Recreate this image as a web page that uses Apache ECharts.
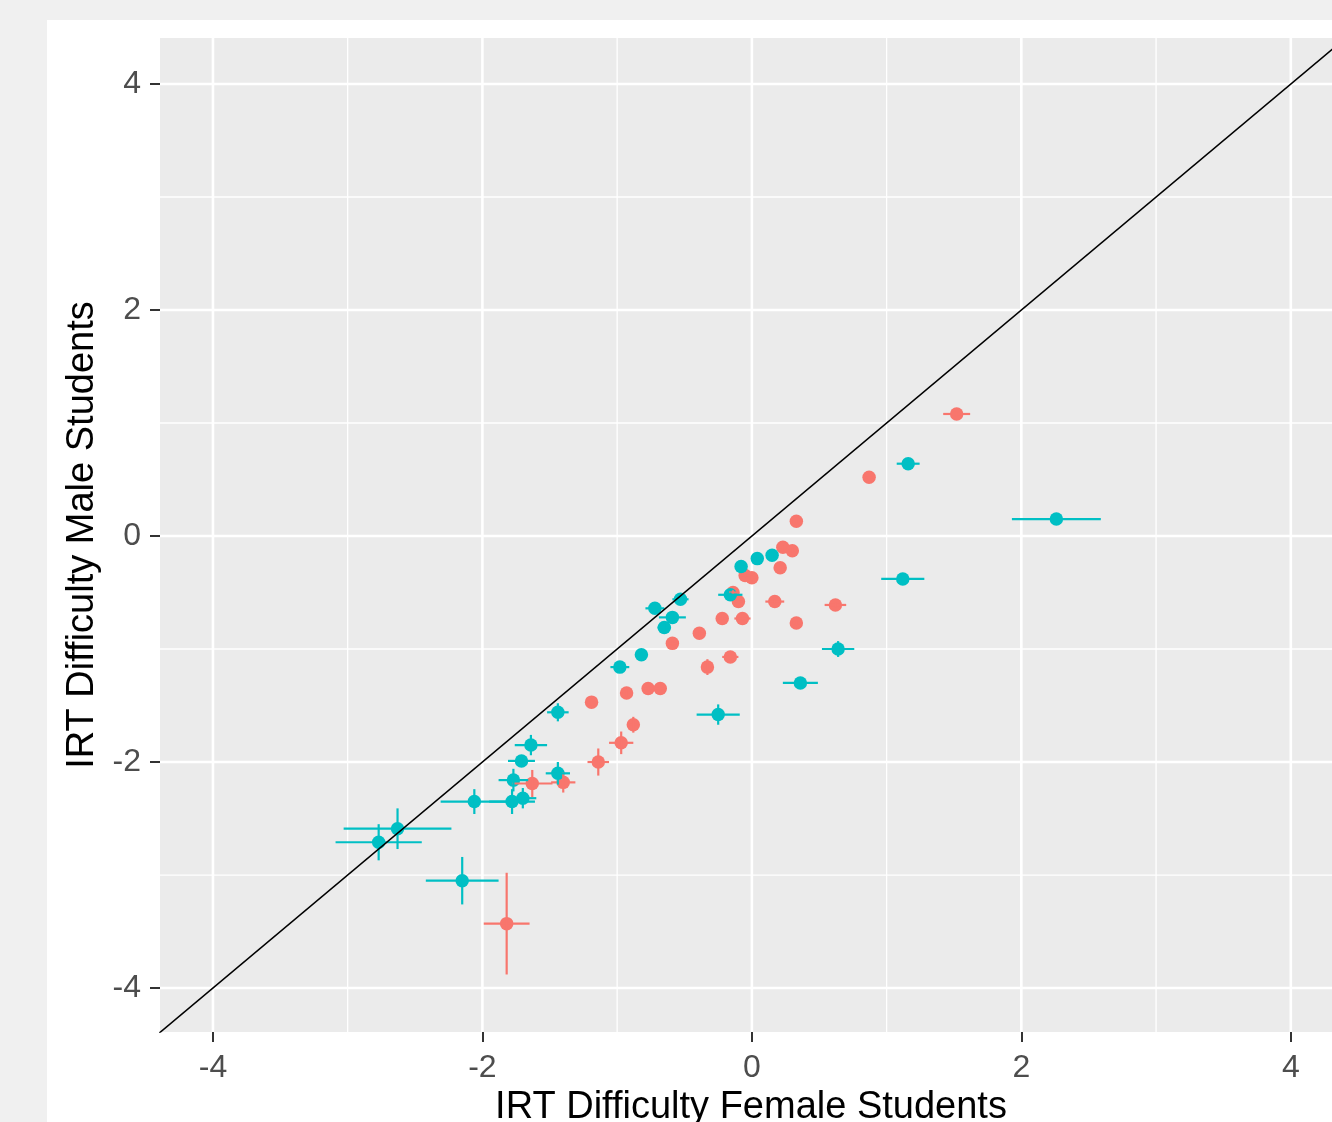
<!DOCTYPE html>
<html>
<head>
<meta charset="utf-8">
<script src="https://cdn.jsdelivr.net/npm/echarts@6/dist/echarts.min.js"></script>
<style>
html, body { margin: 0; padding: 0; background: #f0f0f0; }
#paper { position: absolute; left: 47px; top: 20px; width: 1285px; height: 1102px; background: #fff; }
#chart { position: absolute; left: 0; top: 0; width: 1332px; height: 1122px; }
</style>
</head>
<body>
<div id="paper"></div>
<div id="chart"></div>
<script>
// tick values
var xMajor = [-4, -2, 0, 2, 4];
var xMinor = [-3, -1, 1, 3];
var yMajor = [-4, -2, 0, 2, 4];
var yMinor = [-3, -1, 1, 3];

// reference line y = x
var diag = [-5, 5];

// red group (female x, male y, half widths of the bars)
var redX    = [1.52, 0.87, 0.33, 0.23, 0.30, 0.21, -0.05, 0.00, -0.14, -0.10, 0.17, 0.62, -0.22, -0.07, 0.33, -0.39, -0.16, -0.33, -0.59, -0.77, -0.68, -0.93, -1.19, -0.88, -0.97, -1.14, -1.40, -1.63, -1.82];
var redY    = [1.08, 0.52, 0.13, -0.10, -0.13, -0.28, -0.35, -0.37, -0.50, -0.58, -0.58, -0.61, -0.73, -0.73, -0.77, -0.86, -1.07, -1.16, -0.95, -1.35, -1.35, -1.39, -1.47, -1.67, -1.83, -2.00, -2.18, -2.19, -3.43];
var redXErr = [0.10, 0.03, 0.03, 0.03, 0.03, 0.03, 0.03, 0.03, 0.03, 0.03, 0.07, 0.08, 0.03, 0.06, 0.03, 0.03, 0.06, 0.03, 0.03, 0.04, 0.04, 0.03, 0.03, 0.03, 0.09, 0.08, 0.09, 0.15, 0.17];
var redYErr = [0.02, 0.02, 0.02, 0.02, 0.02, 0.02, 0.02, 0.02, 0.02, 0.02, 0.02, 0.02, 0.02, 0.02, 0.02, 0.02, 0.02, 0.07, 0.02, 0.02, 0.02, 0.03, 0.03, 0.07, 0.10, 0.12, 0.09, 0.12, 0.45];

// teal group
var tealX    = [2.26, 1.16, 1.12, 0.64, 0.36, -0.25, 0.15, 0.04, -0.08, -0.16, -0.72, -0.53, -0.59, -0.65, -0.82, -0.98, -1.44, -1.64, -1.71, -1.77, -1.44, -2.06, -1.78, -1.70, -2.63, -2.77, -2.15];
var tealY    = [0.15, 0.64, -0.38, -1.00, -1.30, -1.58, -0.17, -0.20, -0.27, -0.52, -0.64, -0.56, -0.72, -0.81, -1.05, -1.16, -1.56, -1.85, -1.99, -2.16, -2.10, -2.35, -2.35, -2.32, -2.59, -2.71, -3.05];
var tealXErr = [0.33, 0.085, 0.16, 0.12, 0.13, 0.16, 0.03, 0.03, 0.03, 0.09, 0.07, 0.06, 0.10, 0.05, 0.03, 0.07, 0.08, 0.12, 0.10, 0.11, 0.09, 0.25, 0.17, 0.10, 0.40, 0.32, 0.27];
var tealYErr = [0.03, 0.02, 0.03, 0.07, 0.03, 0.09, 0.02, 0.02, 0.02, 0.02, 0.03, 0.03, 0.03, 0.03, 0.02, 0.03, 0.08, 0.09, 0.05, 0.10, 0.10, 0.11, 0.11, 0.09, 0.18, 0.16, 0.21];

var RED = '#F8766D', TEAL = '#00BFC4';
var FONT = '"Liberation Sans", Arial, sans-serif';

var chart = echarts.init(document.getElementById('chart'));

var gridData = [];
xMajor.forEach(function (v) { gridData.push([v, 0, 0, 1]); });
xMinor.forEach(function (v) { gridData.push([v, 0, 0, 0]); });
yMajor.forEach(function (v) { gridData.push([0, v, 1, 1]); });
yMinor.forEach(function (v) { gridData.push([0, v, 1, 0]); });

function errorBars(xs, ys, xe, ye, color) {
    return {
        type: 'custom', z: 4, silent: true,
        encode: { x: 0, y: 1 },
        data: xs.map(function (x, i) { return [x, ys[i], xe[i], ye[i]]; }),
        renderItem: function (params, api) {
            var x = api.value(0), y = api.value(1), dx = api.value(2), dy = api.value(3);
            var l = api.coord([x - dx, y]), r = api.coord([x + dx, y]);
            var b = api.coord([x, y - dy]), t = api.coord([x, y + dy]);
            var st = { stroke: color, lineWidth: 2.2 };
            return { type: 'group', children: [
                { type: 'line', shape: { x1: l[0], y1: l[1], x2: r[0], y2: r[1] }, style: st },
                { type: 'line', shape: { x1: b[0], y1: b[1], x2: t[0], y2: t[1] }, style: st }
            ] };
        }
    };
}

function points(xs, ys, color) {
    return {
        type: 'scatter', z: 3, silent: true,
        symbolSize: 13.5,
        itemStyle: { color: color, opacity: 1 },
        data: xs.map(function (x, i) { return [x, ys[i]]; })
    };
}

var option = {
    backgroundColor: 'transparent',
    animation: false,
    grid: {
        left: 160, top: 38, width: 1182, height: 994,
        show: true, backgroundColor: '#EBEBEB', borderWidth: 0,
        containLabel: false, outerBoundsMode: 'none'
    },
    xAxis: {
        type: 'value', min: -4.393, max: 4.38,
        name: 'IRT Difficulty Female Students', nameLocation: 'middle', nameGap: 57,
        nameTextStyle: { fontFamily: FONT, fontSize: 38, color: '#000' },
        axisLine: { show: false, onZero: false },
        axisTick: { show: true, length: 10, customValues: xMajor, lineStyle: { color: '#333', width: 2 } },
        axisLabel: { customValues: xMajor, margin: 20, fontSize: 32, color: '#4D4D4D', fontFamily: FONT },
        splitLine: { show: false }
    },
    yAxis: {
        type: 'value', min: -4.389, max: 4.407,
        name: 'IRT Difficulty Male Students', nameLocation: 'middle', nameGap: 57, nameRotate: 90,
        nameTextStyle: { fontFamily: FONT, fontSize: 38, color: '#000' },
        axisLine: { show: false, onZero: false },
        axisTick: { show: true, length: 10, customValues: yMajor, lineStyle: { color: '#333', width: 2 } },
        axisLabel: { customValues: yMajor, margin: 19, fontSize: 32, color: '#4D4D4D', fontFamily: FONT, padding: [4, 0, 0, 0] },
        splitLine: { show: false }
    },
    series: [
        {
            type: 'custom', z: 1, silent: true,
            encode: { x: 0, y: 1 },
            data: gridData,
            renderItem: function (params, api) {
                var cs = params.coordSys;
                var dir = api.value(2), major = api.value(3);
                var shape;
                if (dir === 0) {
                    var px = api.coord([api.value(0), 0])[0];
                    shape = { x1: px, y1: cs.y, x2: px, y2: cs.y + cs.height };
                } else {
                    var py = api.coord([0, api.value(1)])[1];
                    shape = { x1: cs.x, y1: py, x2: cs.x + cs.width, y2: py };
                }
                return { type: 'line', shape: shape, style: { stroke: '#fff', lineWidth: major ? 2.6 : 1.3 } };
            }
        },
        points(redX, redY, RED),
        points(tealX, tealY, TEAL),
        errorBars(redX, redY, redXErr, redYErr, RED),
        errorBars(tealX, tealY, tealXErr, tealYErr, TEAL),
        {
            type: 'line', z: 5, silent: true, symbol: 'none', clip: true,
            lineStyle: { color: '#000', width: 1.5 },
            data: diag.map(function (v) { return [v, v]; })
        }
    ]
};

chart.setOption(option);
</script>
</body>
</html>
